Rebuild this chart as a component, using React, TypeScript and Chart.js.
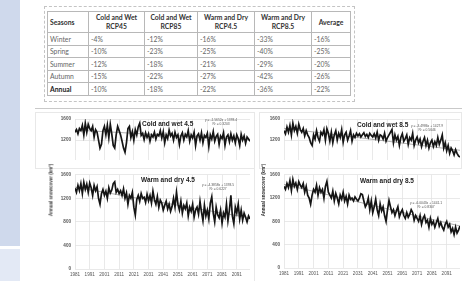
import React, { useEffect, useRef } from "react";
import { Chart, registerables } from "chart.js";

Chart.register(...registerables);

// ---------- DATA ----------
const years: number[] = Array.from({ length: 120 }, (_, i) => 1981 + i);
const xTickLabels = [1981, 1991, 2001, 2011, 2021, 2031, 2041, 2051, 2061, 2071, 2081, 2091];
const yTicksTop = [1200, 1600];
const yTicksBottom = [0, 400, 800, 1200, 1600];

const tableHeaders = ["Seasons", "Cold and Wet RCP45", "Cold and Wet RCP85", "Warm and Dry RCP4.5", "Warm and Dry RCP8.5", "Average"];
const tableSeasons = ["Winter", "Spring", "Summer", "Autumn", "Annual"];
const coldWet45Change = ["-4%", "-10%", "-12%", "-15%", "-10%"];
const coldWet85Change = ["-12%", "-23%", "-18%", "-22%", "-18%"];
const warmDry45Change = ["-16%", "-25%", "-21%", "-27%", "-22%"];
const warmDry85Change = ["-33%", "-40%", "-29%", "-42%", "-36%"];
const averageChange = ["-16%", "-25%", "-20%", "-26%", "-22%"];

const coldWet45 = [
  1350, 1400, 1320, 1420, 1380, 1480, 1300, 1520, 1350, 1500,
  1420, 1380, 1460, 1260, 1400, 1350, 1200, 1050, 1120, 1380,
  1460, 1300, 1480, 1250, 1500, 1320, 1100, 1050, 1300, 1460,
  1380, 1300, 1180, 1050, 970, 1150, 1420, 1460, 1250, 1360,
  1200, 1400, 1300, 1450, 1520, 1290, 1330, 1210, 1340, 1250,
  1320, 1180, 1300, 1260, 1350, 1220, 1310, 1280, 1380, 1240,
  1360, 1150, 1300, 1230, 1390, 1280, 1330, 1200, 1350, 1250,
  1300, 1120, 1280, 1340, 1200, 1310, 1260, 1380, 1180, 1300,
  1240, 1350, 1100, 1280, 1320, 1200, 1340, 1150, 1290, 1250,
  1330, 1080, 1300, 1220, 1360, 1180, 1270, 1310, 1120, 1280,
  1230, 1340, 1100, 1260, 1300, 1170, 1320, 1200, 1280, 1150,
  1300, 1230, 1100, 1310, 1200, 1280, 1140, 1260, 1220, 1180,
];
const warmDry45 = [
  1370, 1300, 1420, 1330, 1450, 1280, 1470, 1350, 1440, 1300,
  1460, 1380, 1250, 1420, 1330, 1400, 1200, 1100, 1280, 1350,
  1250, 1320, 1200, 1380, 1290, 1340, 1450, 1480, 1300, 1350,
  1280, 1330, 1250, 1360, 1200, 1290, 1100, 1250, 1200, 1300,
  1050, 915, 1180, 1250, 1150, 1280, 1200, 1220, 1130, 1270,
  1160, 1250, 1120, 1320, 1180, 1100, 1230, 1050, 1170, 1120,
  1000, 1080, 1150, 1020, 1100, 980, 1060, 1200, 1050, 1300,
  1100, 1000, 1150, 950, 1080, 1020, 1120, 900, 1050, 980,
  1100, 880, 1000, 1050, 930, 1150, 970, 820, 1080, 900,
  1000, 850, 1120, 1225, 950, 800, 1050, 920, 870, 1000,
  780, 950, 880, 1100, 820, 1000, 1250, 900, 770, 1050,
  950, 1100, 850, 1000, 830, 950, 880, 800, 900, 850,
];
const coldWet85 = [
  1380, 1320, 1450, 1350, 1480, 1300, 1520, 1380, 1460, 1330,
  1500, 1400, 1350, 1420, 1280, 1380, 1300, 1250, 1150, 1100,
  1300, 1220, 1380, 1250, 1180, 1350, 1300, 1400, 1200, 1417,
  1330, 1180, 1350, 1150, 1300, 1380, 1200, 1330, 1250, 1400,
  1160, 1300, 1350, 1200, 1280, 1380, 1180, 1300, 1250, 1330,
  1280, 1320, 1260, 1300, 1340, 1270, 1310, 1250, 1330, 1290,
  1260, 1320, 1240, 1350, 1200, 1300, 1280, 1220, 1330, 1180,
  1250, 1300, 1350, 1400, 1150, 1300, 1200, 1270, 1100, 1250,
  1320, 1180, 1230, 1300, 1120, 1250, 1200, 1330, 1100, 1200,
  1260, 1150, 1220, 1080, 1180, 1250, 1100, 1200, 1050, 1150,
  1200, 1080, 1170, 1100, 1250, 1120, 1200, 1300, 1050, 1150,
  1000, 1100, 950, 1050, 1000, 920, 1020, 950, 900, 880,
];
const warmDry85 = [
  1400, 1350, 1450, 1380, 1500, 1330, 1518, 1400, 1460, 1350,
  1480, 1420, 1380, 1450, 1300, 1400, 1250, 1200, 1095, 1250,
  1350, 1300, 1420, 1250, 1380, 1300, 1350, 1200, 1400, 1486,
  1300, 1250, 1200, 1320, 1150, 1280, 1200, 1100, 1250, 1180,
  1300, 1150, 1230, 1100, 1250, 1180, 1200, 1150, 1220, 1180,
  1150, 1200, 1275, 1260, 1150, 1050, 1100, 1200, 1000, 1150,
  950, 1050, 1180, 1000, 900, 1100, 980, 1050, 900, 800,
  1000, 1160, 1050, 950, 1000, 900, 980, 1050, 880, 950,
  1000, 900, 850, 950, 870, 920, 1000, 950, 820, 900,
  850, 800, 900, 750, 850, 900, 780, 820, 700, 850,
  750, 800, 700, 780, 850, 720, 780, 700, 650, 750,
  800, 700, 750, 620, 680, 573, 700, 600, 650, 720,
];
// linear trend end values (first year, last year)
const trendColdWet45 = [1391.8, 1205.6];
const trendWarmDry45 = [1389.1, 867.2];
const trendColdWet85 = [1424.4, 1008.1];
const trendWarmDry85 = [1435.1, 720.6];

// ---------- CHART ----------
type Cfg = {
  series: number[];
  trend: number[];
  yMin: number;
  yMax: number;
  yTicks: number[];
  showX: boolean;
  yWidth: number;
  xHeight: number;
  padding: { top: number; left: number; right: number; bottom: number };
};

function LineChart({ w, h, cfg }: { w: number; h: number; cfg: Cfg }) {
  const ref = useRef<HTMLCanvasElement | null>(null);
  useEffect(() => {
    if (!ref.current) return;
    const gridColor = "#e3e3e3";
    const chart = new Chart(ref.current, {
      type: "line",
      data: {
        datasets: [
          {
            data: years.map((yr, i) => ({ x: yr, y: cfg.series[i] })),
            borderColor: "#151515",
            borderWidth: 1.7,
            pointRadius: 0,
            tension: 0,
          },
          {
            data: [
              { x: years[0], y: cfg.trend[0] },
              { x: years[years.length - 1], y: cfg.trend[1] },
            ],
            borderColor: "#9a9a9a",
            borderWidth: 0.8,
            pointRadius: 0,
          },
        ],
      },
      options: {
        animation: false,
        responsive: false,
        maintainAspectRatio: false,
        layout: { padding: cfg.padding },
        plugins: { legend: { display: false }, tooltip: { enabled: false } },
        scales: {
          x: {
            type: "linear",
            min: years[0],
            max: years[years.length - 1],
            afterBuildTicks: (s: any) => {
              s.ticks = xTickLabels.map((v) => ({ value: v }));
            },
            afterFit: (s: any) => {
              s.height = cfg.xHeight;
            },
            ticks: {
              display: cfg.showX,
              autoSkip: false,
              maxRotation: 0,
              padding: 3,
              color: "#555",
              font: { size: 4.6, family: "Liberation Sans" },
              callback: (v: any) => String(v),
            },
            grid: { color: gridColor, lineWidth: 0.8, drawTicks: false },
            border: { display: false },
          },
          y: {
            min: cfg.yMin,
            max: cfg.yMax,
            afterBuildTicks: (s: any) => {
              s.ticks = cfg.yTicks.map((v) => ({ value: v }));
            },
            afterFit: (s: any) => {
              s.width = cfg.yWidth;
            },
            ticks: {
              padding: 4,
              color: "#555",
              font: { size: 4.6, family: "Liberation Sans", weight: "bold" },
              callback: (v: any) => String(v),
            },
            grid: { color: gridColor, lineWidth: 0.8, drawTicks: false },
            border: { display: false },
          },
        },
      },
    } as any);
    return () => chart.destroy();
  }, []);
  return <canvas ref={ref} width={w} height={h} style={{ display: "block", width: w, height: h }} />;
}

const abs = (l: number, t: number, extra: any = {}): any => ({ position: "absolute", left: l, top: t, ...extra });

function Title({ x, y, text }: { x: number; y: number; text: string }) {
  return (
    <div style={abs(x, y, { font: "bold 6.5px 'Liberation Sans', Arial, sans-serif", color: "#222", whiteSpace: "nowrap", lineHeight: "7px" })}>
      {text}
    </div>
  );
}
function Eq({ x, y, l1, l2 }: { x: number; y: number; l1: string; l2: string }) {
  return (
    <div style={abs(x, y, { font: "3.3px 'Liberation Sans', Arial, sans-serif", color: "#555", whiteSpace: "nowrap", lineHeight: "4px", textAlign: "center" })}>
      <div>{l1}</div>
      <div>{l2}</div>
    </div>
  );
}
function YTitle({ cx, cy }: { cx: number; cy: number }) {
  return (
    <div
      style={abs(cx, cy, {
        transform: "translate(-50%,-50%) rotate(-90deg)",
        font: "bold 4.5px 'Liberation Sans', Arial, sans-serif",
        color: "#333",
        whiteSpace: "nowrap",
      })}
    >
      Annual snowcover (km²)
    </div>
  );
}

function DataTable() {
  const colW = [41, 56, 53, 57, 57, 39];
  const cell: any = { border: "1px solid #b8b8b8", padding: "0 2px", overflow: "hidden" };
  const cols = [coldWet45Change, coldWet85Change, warmDry45Change, warmDry85Change, averageChange];
  return (
    <table
      style={abs(47, 11, {
        borderCollapse: "collapse",
        tableLayout: "fixed",
        width: 303,
        fontFamily: "Lato, 'Open Sans', sans-serif",
        fontSize: "6.8px",
      })}
    >
      <colgroup>
        {colW.map((w, i) => (
          <col key={i} style={{ width: w }} />
        ))}
      </colgroup>
      <tbody>
        <tr style={{ height: 21 }}>
          {tableHeaders.map((h, i) => (
            <td
              key={i}
              style={{
                ...cell,
                fontWeight: "bold",
                color: "#333",
                textAlign: i === 0 ? "left" : "center",
                lineHeight: "9px",
              }}
            >
              {h}
            </td>
          ))}
        </tr>
        {tableSeasons.map((s, r) => {
          const ann = r === tableSeasons.length - 1;
          return (
            <tr key={s} style={{ height: 12.5 }}>
              <td style={{ ...cell, color: ann ? "#222" : "#666", fontWeight: ann ? "bold" : "normal", borderTop: ann ? "1.5px solid #888" : cell.border }}>{s}</td>
              {cols.map((c, i) => (
                <td key={i} style={{ ...cell, color: "#666", borderTop: ann ? "1.5px solid #888" : cell.border }}>
                  {c[r]}
                </td>
              ))}
            </tr>
          );
        })}
      </tbody>
    </table>
  );
}

export default function App() {
  const leftTop: Cfg = {
    series: coldWet45, trend: trendColdWet45, yMin: 820, yMax: 1600, yTicks: yTicksTop, showX: false,
    yWidth: 40, xHeight: 0, padding: { top: 7, left: 0, right: 7, bottom: 0 },
  };
  const leftBottom: Cfg = {
    series: warmDry45, trend: trendWarmDry45, yMin: 0, yMax: 1600, yTicks: yTicksBottom, showX: true,
    yWidth: 40, xHeight: 12, padding: { top: 3, left: 0, right: 7, bottom: 0 },
  };
  const rightTop: Cfg = {
    series: coldWet85, trend: trendColdWet85, yMin: 820, yMax: 1600, yTicks: yTicksTop, showX: false,
    yWidth: 26, xHeight: 0, padding: { top: 7, left: 0, right: 2, bottom: 0 },
  };
  const rightBottom: Cfg = {
    series: warmDry85, trend: trendWarmDry85, yMin: 0, yMax: 1600, yTicks: yTicksBottom, showX: true,
    yWidth: 26, xHeight: 13, padding: { top: 3, left: 0, right: 2, bottom: 0 },
  };
  return (
    <div style={{ position: "fixed", left: 0, top: 0, width: 462, height: 281, background: "#fff", overflow: "hidden" }}>
      <div style={abs(0, 0, { width: 20, height: 246, background: "#cfd9ec" })} />
      <div style={abs(0, 249, { width: 20, height: 32, background: "#e3e9f5" })} />
      <div style={abs(44, 6, { width: 309, height: 94, border: "1px dashed #c4c4c4" })} />
      <DataTable />
      <div style={abs(35, 108, { width: 427, height: 1, background: "#c9c9c9" })} />

      {/* left top */}
      <div style={abs(35, 112, { width: 220, height: 58, border: "1px solid #e8e8e8", boxSizing: "border-box" })} />
      <div style={abs(35, 112)}>
        <LineChart w={222} h={55} cfg={leftTop} />
      </div>
      {/* right top */}
      <div style={abs(259, 112, { width: 203, height: 58, border: "1px solid #e8e8e8", boxSizing: "border-box" })} />
      <div style={abs(258, 112)}>
        <LineChart w={204} h={55} cfg={rightTop} />
      </div>
      {/* left bottom */}
      <div style={abs(35, 168, { width: 220, height: 113, background: "#fff", borderTop: "1px solid #e8e8e8", borderRight: "1px solid #e8e8e8", boxSizing: "border-box" })} />
      <div style={abs(35, 168)}>
        <LineChart w={222} h={113} cfg={leftBottom} />
      </div>
      {/* right bottom */}
      <div style={abs(259, 168, { width: 203, height: 113, background: "#fff", borderTop: "1px solid #e8e8e8", boxSizing: "border-box" })} />
      <div style={abs(258, 168)}>
        <LineChart w={204} h={113} cfg={rightBottom} />
      </div>

      <Title x={142} y={119.5} text="Cold and wet 4.5" />
      <Eq x={205} y={118} l1="y = -1.5652x + 1393.4" l2="R² = 0.3203" />
      <Title x={141} y={175.5} text="Warm and dry 4.5" />
      <Eq x={202} y={183} l1="y = -4.3858x + 1393.5" l2="R² = 0.6227" />
      <Title x={357} y={120.5} text="Cold and wet 8.5" />
      <Eq x={411} y={124} l1="y = -3.4986x + 1427.9" l2="R² = 0.5646" />
      <Title x={360} y={176.5} text="Warm and dry 8.5" />
      <Eq x={410} y={201} l1="y = -6.0043x + 1441.1" l2="R² = 0.8307" />

      <YTitle cx={51} cy={190} />
      <YTitle cx={263} cy={190} />
    </div>
  );
}
